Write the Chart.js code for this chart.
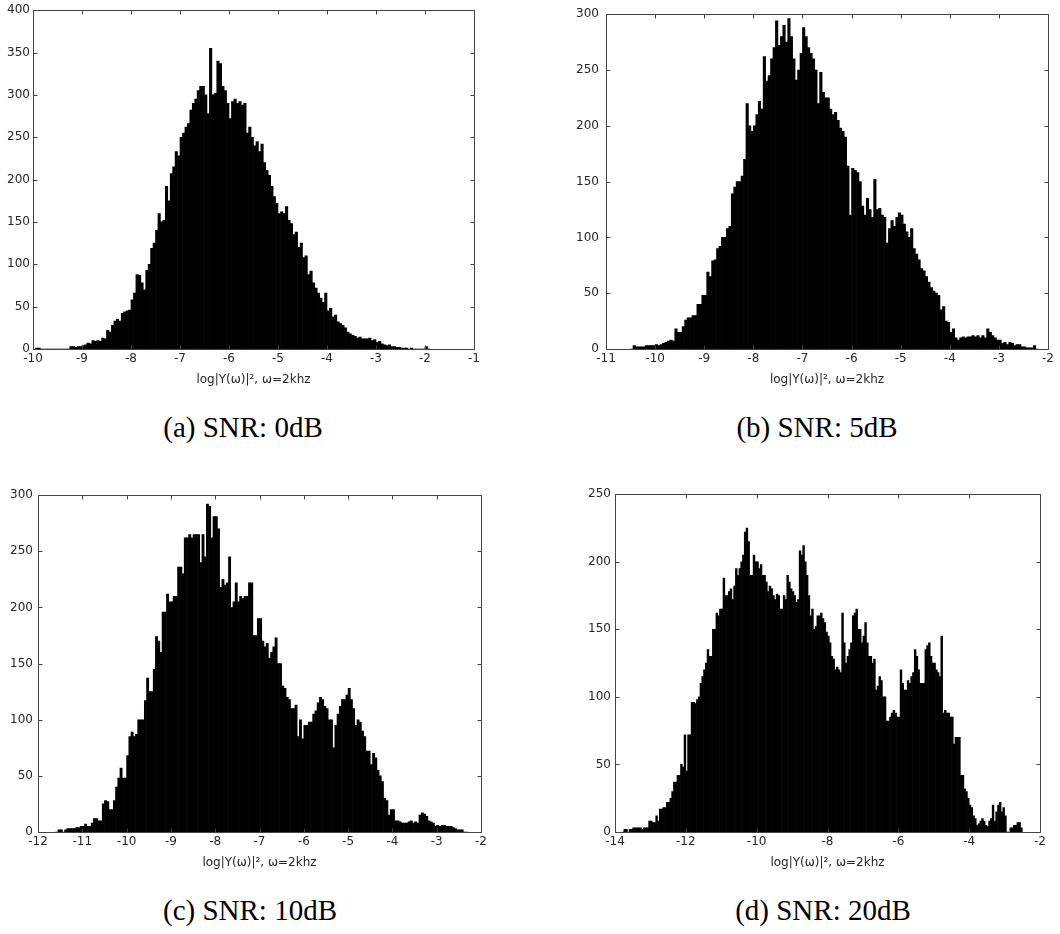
<!DOCTYPE html>
<html>
<head>
<meta charset="utf-8">
<title>Histograms of log|Y(w)|^2 at different SNR</title>
<script src="https://cdn.jsdelivr.net/npm/chart.js@4.4.0/dist/chart.umd.min.js"></script>
<style>
  html, body { margin: 0; padding: 0; background: #fff; }
  body { width: 1060px; height: 934px; position: relative; overflow: hidden; }
  .panel { position: absolute; width: 530px; height: 400px; }
  .caption {
    position: absolute;
    font-family: "Liberation Serif", "Times New Roman", serif;
    font-size: 29px;
    line-height: 29px;
    color: #000;
    white-space: nowrap;
    transform: translateX(-50%);
  }
</style>
</head>
<body>
<canvas id="chartA" class="panel" width="530" height="400" style="left:0;top:0"></canvas>
<canvas id="chartB" class="panel" width="530" height="400" style="left:530px;top:0"></canvas>
<canvas id="chartC" class="panel" width="530" height="400" style="left:0;top:483px"></canvas>
<canvas id="chartD" class="panel" width="530" height="400" style="left:530px;top:483px"></canvas>

<div class="caption" style="left:243px;top:413px">(a) SNR: 0dB</div>
<div class="caption" style="left:817px;top:413px">(b) SNR: 5dB</div>
<div class="caption" style="left:250px;top:896px">(c) SNR: 10dB</div>
<div class="caption" style="left:823px;top:896px">(d) SNR: 20dB</div>

<script>
// Data: histogram counts, bins of width BIN_W starting at each *_START
const BIN_W = 0.05;
const X_TITLE = 'log|Y(\u03c9)|\u00b2, \u03c9=2khz';

// (a) SNR 0dB, bins from -10.0
const A_START = -10.0;
const countsA = [
  0, 1, 1, 0, 0, 0, 0, 0, 0, 0,
  0, 0, 0, 0, 0, 3, 3, 2, 3, 3,
  4, 5, 7, 6, 10, 9, 10, 9, 13, 12,
  22, 20, 28, 33, 35, 33, 42, 44, 45, 46,
  58, 66, 88, 87, 78, 70, 93, 100, 119, 125,
  140, 160, 150, 152, 192, 175, 207, 215, 233, 228,
  250, 255, 262, 266, 282, 290, 295, 305, 310, 310,
  300, 278, 355, 300, 302, 340, 337, 310, 305, 290,
  272, 292, 295, 290, 292, 288, 290, 255, 262, 250,
  240, 245, 233, 242, 220, 211, 205, 192, 180, 172,
  160, 162, 160, 168, 152, 148, 135, 138, 120, 125,
  108, 110, 88, 92, 78, 72, 66, 60, 55, 66,
  45, 48, 38, 40, 32, 30, 28, 25, 20, 18,
  16, 15, 13, 14, 12, 12, 12, 13, 10, 11,
  8, 9, 6, 5, 4, 5, 3, 3, 2, 2,
  1, 1, 1, 0, 1, 0, 0, 0, 0, 0,
  3, 0
];

// (b) SNR 5dB, bins from -10.5
const B_START = -10.5;
const countsB = [
  0, 3, 2, 2, 2, 2, 3, 3, 3, 3,
  4, 3, 4, 5, 6, 7, 8, 7, 18, 15,
  15, 20, 26, 28, 28, 30, 30, 40, 40, 48,
  48, 69, 65, 79, 80, 90, 92, 100, 100, 108,
  110, 139, 145, 150, 150, 155, 170, 220, 200, 195,
  200, 210, 222, 215, 262, 240, 245, 260, 270, 294,
  272, 280, 290, 275, 296, 280, 260, 241, 250, 265,
  288, 280, 270, 265, 260, 250, 220, 248, 230, 225,
  225, 215, 210, 212, 205, 198, 195, 190, 164, 120,
  162, 160, 158, 150, 128, 120, 135, 125, 118, 152,
  125, 126, 120, 118, 95, 108, 115, 110, 118, 122,
  120, 112, 105, 100, 108, 90, 85, 80, 72, 70,
  65, 60, 55, 52, 50, 48, 35, 38, 25, 24,
  15, 18, 10, 8, 10, 11, 10, 11, 11, 12,
  11, 12, 10, 12, 10, 18, 15, 12, 10, 8,
  8, 5, 6, 4, 6, 5, 3, 4, 4, 2,
  2, 1, 1, 1, 3, 0
];

// (c) SNR 10dB, bins from -11.6
const C_START = -11.6;
const countsC = [
  0, 2, 2, 0, 2, 3, 3, 3, 3, 4,
  4, 5, 5, 7, 5, 5, 8, 12, 12, 10,
  10, 25, 28, 27, 20, 20, 28, 40, 48, 57,
  48, 48, 68, 85, 89, 85, 87, 100, 100, 100,
  117, 137, 125, 125, 145, 174, 170, 160, 196, 196,
  212, 205, 205, 210, 210, 236, 236, 230, 262, 262,
  265, 262, 265, 265, 265, 240, 265, 245, 292, 290,
  262, 281, 281, 270, 218, 225, 220, 222, 245, 200,
  205, 222, 205, 210, 208, 210, 210, 222, 222, 175,
  175, 190, 190, 170, 165, 168, 155, 160, 165, 173,
  150, 150, 130, 128, 120, 118, 110, 110, 113, 85,
  100, 83, 95, 95, 98, 98, 105, 108, 115, 120,
  118, 112, 110, 100, 100, 75, 95, 105, 112, 118,
  118, 122, 128, 118, 110, 95, 100, 98, 90, 85,
  72, 72, 60, 70, 66, 55, 50, 45, 30, 28,
  15, 20, 20, 10, 10, 9, 8, 8, 8, 9,
  10, 8, 9, 8, 15, 17, 16, 14, 10, 9,
  8, 5, 6, 5, 6, 6, 5, 5, 5, 4,
  3, 2, 2, 2, 0, 0
];

// (d) SNR 20dB, bins from -13.8
const D_START = -13.8;
const countsD = [
  0, 2, 2, 0, 2, 2, 3, 3, 3, 3,
  3, 2, 3, 3, 3, 8, 8, 7, 7, 12,
  8, 17, 17, 18, 18, 22, 22, 25, 30, 37,
  37, 42, 42, 50, 48, 72, 45, 72, 72, 96,
  96, 95, 98, 100, 110, 115, 120, 125, 135, 130,
  130, 150, 150, 162, 160, 165, 165, 188, 175, 175,
  178, 180, 172, 182, 195, 190, 195, 200, 205, 222,
  225, 215, 190, 190, 205, 200, 200, 195, 198, 190,
  190, 185, 178, 182, 180, 175, 172, 176, 175, 165,
  165, 175, 172, 190, 185, 180, 178, 175, 170, 172,
  208, 205, 212, 200, 190, 175, 160, 165, 150, 152,
  160, 160, 162, 158, 155, 148, 145, 140, 130, 128,
  120, 122, 120, 118, 162, 140, 125, 130, 135, 140,
  160, 162, 165, 150, 150, 140, 145, 155, 140, 130,
  130, 125, 128, 105, 108, 115, 112, 100, 100, 82,
  82, 85, 88, 90, 88, 85, 85, 120, 110, 105,
  105, 112, 110, 115, 118, 135, 130, 120, 110, 110,
  110, 135, 138, 140, 130, 125, 125, 120, 118, 115,
  145, 88, 90, 88, 88, 85, 85, 65, 70, 70,
  70, 42, 42, 32, 30, 25, 20, 18, 12, 10,
  5, 6, 8, 10, 8, 5, 4, 8, 10, 20,
  8, 15, 20, 22, 15, 18, 12, 0, 0, 3,
  3, 5, 5, 7, 7, 3
];

// Axis ranges and tick steps
const xRangeA = [-10, -1], xRangeB = [-11, -2], xRangeC = [-12, -2], xRangeD = [-14, -2];
const xStepA = 1, xStepB = 1, xStepC = 1, xStepD = 2;
const yMaxA = 400, yMaxB = 300, yMaxC = 300, yMaxD = 250;
const Y_STEP = 50;

// Styles
const BAR_COLOR = '#000';
const AXIS_COLOR = '#444';
const TEXT_COLOR = '#262626';
const TICK_LEN = 4;
const TICK_FONT = { family: '"DejaVu Sans", Arial, sans-serif', size: 12 };

// Matlab-like box with inward ticks on all four sides
const boxTicks = {
  id: 'boxTicks',
  afterDatasetsDraw(chart) {
    const { ctx, chartArea: { left, top, right, bottom }, scales: { x, y } } = chart;
    const l = Math.round(left) + 0.5, r = Math.round(right) + 0.5;
    const t = Math.round(top) + 0.5, b = Math.round(bottom) + 0.5;
    ctx.save();
    ctx.strokeStyle = AXIS_COLOR;
    ctx.lineWidth = 1;
    ctx.beginPath();
    x.ticks.forEach(tk => {
      const px = Math.round(x.getPixelForValue(tk.value)) + 0.5;
      ctx.moveTo(px, b); ctx.lineTo(px, b - TICK_LEN);
      ctx.moveTo(px, t); ctx.lineTo(px, t + TICK_LEN);
    });
    y.ticks.forEach(tk => {
      const py = Math.round(y.getPixelForValue(tk.value)) + 0.5;
      ctx.moveTo(l, py); ctx.lineTo(l + TICK_LEN, py);
      ctx.moveTo(r, py); ctx.lineTo(r - TICK_LEN, py);
    });
    ctx.rect(l, t, r - l, b - t);
    ctx.stroke();
    ctx.restore();
  }
};

const toPoints = (counts, start) =>
  counts.map((c, i) => ({ x: start + (i + 0.5) * BIN_W, y: c }));

// area: [left, right] of plot area inside the 530x400 canvas
const createHistogram = (id, counts, start, xRange, xStep, yMax, area, yPad) => {
  const ctx = document.getElementById(id);
  return new Chart(ctx, {
    type: 'bar',
    data: {
      datasets: [{
        data: toPoints(counts, start),
        backgroundColor: BAR_COLOR,
        borderWidth: 0,
        barPercentage: 1,
        categoryPercentage: 1
      }]
    },
    options: {
      responsive: false,
      animation: false,
      events: [],
      layout: { padding: { left: 0, top: 10, right: 530 - area[1], bottom: 0 } },
      plugins: { legend: { display: false }, tooltip: { enabled: false } },
      scales: {
        x: {
          type: 'linear',
          offset: false,
          min: xRange[0],
          max: xRange[1],
          grid: { display: false, drawTicks: false },
          border: { display: false },
          ticks: {
            stepSize: xStep,
            autoSkip: false,
            maxRotation: 0,
            padding: 3,
            color: TEXT_COLOR,
            font: TICK_FONT,
            callback: v => String(v)
          },
          title: {
            display: true,
            text: X_TITLE,
            color: TEXT_COLOR,
            font: TICK_FONT,
            padding: { top: 0, bottom: 13 }
          },
          afterFit: scale => { scale.height = 51; }
        },
        y: {
          min: 0,
          max: yMax,
          grid: { display: false, drawTicks: false },
          border: { display: false },
          ticks: {
            stepSize: Y_STEP,
            autoSkip: false,
            padding: yPad,
            color: TEXT_COLOR,
            font: TICK_FONT,
            callback: v => String(v)
          },
          afterFit: scale => { scale.width = area[0]; }
        }
      }
    },
    plugins: [boxTicks]
  });
};

createHistogram('chartA', countsA, A_START, xRangeA, xStepA, yMaxA, [33, 474], 3);
createHistogram('chartB', countsB, B_START, xRangeB, xStepB, yMaxB, [76, 518], 7);
createHistogram('chartC', countsC, C_START, xRangeC, xStepC, yMaxC, [38, 481], 5);
createHistogram('chartD', countsD, D_START, xRangeD, xStepD, yMaxD, [85, 510], 4);
</script>
</body>
</html>
